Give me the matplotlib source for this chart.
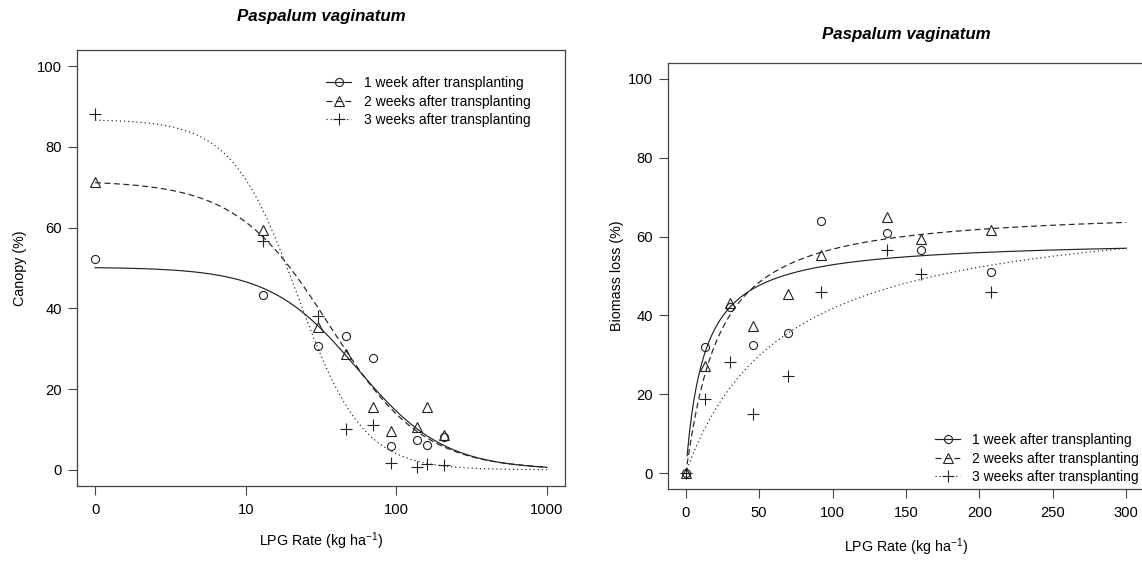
import numpy as np
import matplotlib
matplotlib.use('Agg')
import matplotlib.pyplot as plt
from matplotlib.lines import Line2D

plt.rcParams['font.family'] = ['Liberation Sans', 'DejaVu Sans']
plt.rcParams['mathtext.default'] = 'regular'

dose = [0, 13, 30, 46, 70, 92, 137, 160, 208]
labels = ['1 week after transplanting', '2 weeks after transplanting',
          '3 weeks after transplanting']

canopy_1wk = [52.3, 43.2, 30.6, 33.2, 27.6, 6.0, 7.3, 6.1, 8.1]
canopy_2wk = [71.3, 59.5, 35.5, 28.6, 15.5, 9.7, 10.7, 15.5, 8.7]
canopy_3wk = [88.1, 56.6, 38.2, 10.2, 11.2, 1.8, 0.8, 1.4, 1.1]

biomass_1wk = [0, 31.9, 42.2, 32.6, 35.6, 64.0, 60.9, 56.6, 51.0]
biomass_2wk = [0, 27.3, 43.2, 37.3, 45.5, 55.4, 64.9, 59.5, 61.6]
biomass_3wk = [0, 18.7, 28.3, 15.1, 24.6, 46.0, 56.6, 50.6, 46.0]

# log-logistic fits (b, d, e):  d / (1 + exp(b*(log(x) - log(e))))
canopy_fits = [(1.5, 50.2, 55.0), (1.4, 71.6, 36.0), (2.0, 86.8, 22.0)]
biomass_fits = [(-1.0, 59.4, 12.4), (-1.1, 67.0, 21.0), (-1.0, 69.8, 67.2)]

W, H = 1142, 561
fig = plt.figure(figsize=(W / 100, H / 100), dpi=100)

def px_axes(l, t, r, b):
    return fig.add_axes([l / W, 1 - b / H, (r - l) / W, (b - t) / H])

markers = ['o', '^', '+']
msizes = [5.8, 6.8, 8.5]
dashes = [(None, None), (5, 3), (1, 2.5)]
lc = '#222222'

def ll3(x, b, d, e):
    return d / (1 + np.exp(b * (np.log(x) - np.log(e))))

def style(ax):
    for s in ax.spines.values():
        s.set_color('#444444')
        s.set_linewidth(0.9)
    ax.tick_params(direction='out', length=6.5, width=0.8, color='#444444',
                   labelsize=10.6, pad=5.5)
    ax.tick_params(axis='y', pad=4.5)
    ax.set_yticks([0, 20, 40, 60, 80, 100])
    ax.set_ylim(-4, 104)

def add_series(ax, xs, ys, fit, xcurve, i):
    ax.plot(xs, ys, ls='none', marker=markers[i], ms=msizes[i], mfc='none',
            mec=lc, mew=0.8)
    ln, = ax.plot(xcurve, ll3(xcurve, *fit), color=lc, lw=0.85)
    if dashes[i][0] is not None:
        ln.set_dashes(dashes[i])

def handles():
    hs = []
    for i in range(3):
        h = Line2D([], [], color=lc, lw=0.85, marker=markers[i], ms=msizes[i],
                   mfc='none', mec=lc, mew=0.8)
        if dashes[i][0] is not None:
            h.set_dashes(dashes[i])
        hs.append(h)
    return hs

leg_kw = dict(loc='upper left', frameon=False, bbox_transform=fig.transFigure,
              borderpad=0, borderaxespad=0, fontsize=10.0, handlelength=1.8,
              handletextpad=0.9, labelspacing=0.33)

# left: canopy, log dose axis with 0 drawn at 1
ax1 = px_axes(77, 50, 565, 486)
style(ax1)
ax1.set_xscale('log')
ax1.set_xlim(10 ** -0.12, 10 ** 3.12)
ax1.set_xticks([1, 10, 100, 1000])
ax1.set_xticklabels(['0', '10', '100', '1000'])
ax1.minorticks_off()
xpos = np.where(np.array(dose) == 0, 1, dose)
xc = np.logspace(0, 3, 300)
for i, ys in enumerate([canopy_1wk, canopy_2wk, canopy_3wk]):
    add_series(ax1, xpos, ys, canopy_fits[i], xc, i)
ax1.legend(handles(), labels, bbox_to_anchor=(326 / W, 1 - 76 / H), **leg_kw)

# right: biomass loss, linear dose axis
ax2 = px_axes(668, 63, 1144, 489)
style(ax2)
ax2.set_xlim(-12, 312)
ax2.set_xticks([0, 50, 100, 150, 200, 250, 300])
xc2 = np.linspace(1, 300, 400)
for i, ys in enumerate([biomass_1wk, biomass_2wk, biomass_3wk]):
    add_series(ax2, dose, ys, biomass_fits[i], xc2, i)
ax2.legend(handles(), labels, bbox_to_anchor=(935 / W, 1 - 433 / H), **leg_kw)

xlab = 'LPG Rate (kg ha$^{-1}$)'
fig.text(321 / W, 1 - 17 / H, 'Paspalum vaginatum', ha='center', va='center',
         fontsize=12.2, fontweight='bold', fontstyle='italic')
fig.text(906 / W, 1 - 35 / H, 'Paspalum vaginatum', ha='center', va='center',
         fontsize=12.2, fontweight='bold', fontstyle='italic')
fig.text(321 / W, 1 - 541 / H, xlab, ha='center', va='center', fontsize=10.3)
fig.text(906 / W, 1 - 547 / H, xlab, ha='center', va='center', fontsize=10.3)
fig.text(20 / W, 1 - 268 / H, 'Canopy (%)', ha='center', va='center',
         rotation=90, fontsize=10.3)
fig.text(617 / W, 1 - 276 / H, 'Biomass loss (%)', ha='center', va='center',
         rotation=90, fontsize=10.3)

fig.savefig('out.png', dpi=100)
